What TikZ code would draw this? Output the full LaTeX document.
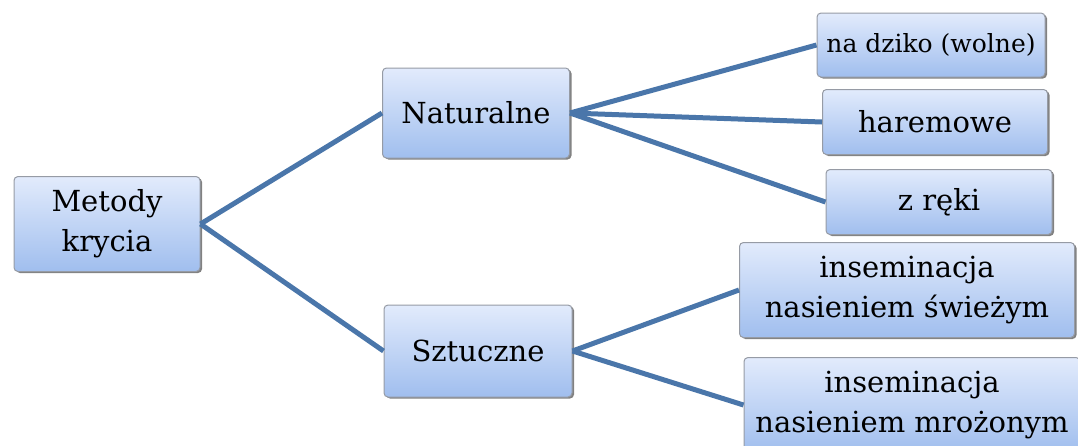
\documentclass[tikz,border=0pt]{standalone}
\usepackage{fontspec}
\setmainfont{DejaVu Serif}
\usepackage{tikz}
\usetikzlibrary{shadows}

\definecolor{linkblue}{RGB}{74,118,170}
\definecolor{boxtop}{RGB}{226,235,252}
\definecolor{boxbot}{RGB}{160,190,238}
\definecolor{boxedge}{RGB}{150,155,165}

\tikzset{
  box/.style={draw=boxedge,line width=1pt,rounded corners=4pt,top color=boxtop,bottom color=boxbot,
    align=center,inner sep=2pt,font=\fontsize{29}{40}\selectfont,
    drop shadow={shadow xshift=2pt,shadow yshift=-1.5pt,opacity=.7,fill=black!70}},
  link/.style={draw=linkblue,line width=5pt}
}

\begin{document}
\begin{tikzpicture}[x=1pt,y=-1pt]
 \useasboundingbox (0,0) rectangle (1078,445);
 % lewa kolumna
 \node[box,minimum width=186pt,minimum height=95pt] (metody) at (107,224) {Metody\\krycia};
 % srodek
 \node[box,minimum width=187pt,minimum height=90pt] (nat) at (476,113) {Naturalne};
 \node[box,minimum width=188pt,minimum height=92pt] (szt) at (478,351) {Sztuczne};
 % prawa kolumna
 \node[box,minimum width=228pt,minimum height=64pt,font=\fontsize{25}{29}\selectfont] (dziko) at (931,45) {na dziko (wolne)};
 \node[box,minimum width=225pt,minimum height=65pt] (harem) at (935,122) {haremowe};
 \node[box,minimum width=226pt,minimum height=65pt] (reka) at (939,202) {z ręki};
 \node[box,minimum width=335pt,minimum height=95pt] (swieze) at (907,290) {inseminacja\\nasieniem świeżym};
 \node[box,minimum width=336pt,minimum height=95pt] (mrozone) at (912,405) {inseminacja\\nasieniem mrożonym};
 % polaczenia
 \draw[link] (metody.east) -- (nat.west);
 \draw[link] (metody.east) -- (szt.west);
 \draw[link] (nat.east) -- (dziko.west);
 \draw[link] (nat.east) -- (harem.west);
 \draw[link] (nat.east) -- (reka.west);
 \draw[link] (szt.east) -- (swieze.west);
 \draw[link] (szt.east) -- (mrozone.west);
\end{tikzpicture}
\end{document}
